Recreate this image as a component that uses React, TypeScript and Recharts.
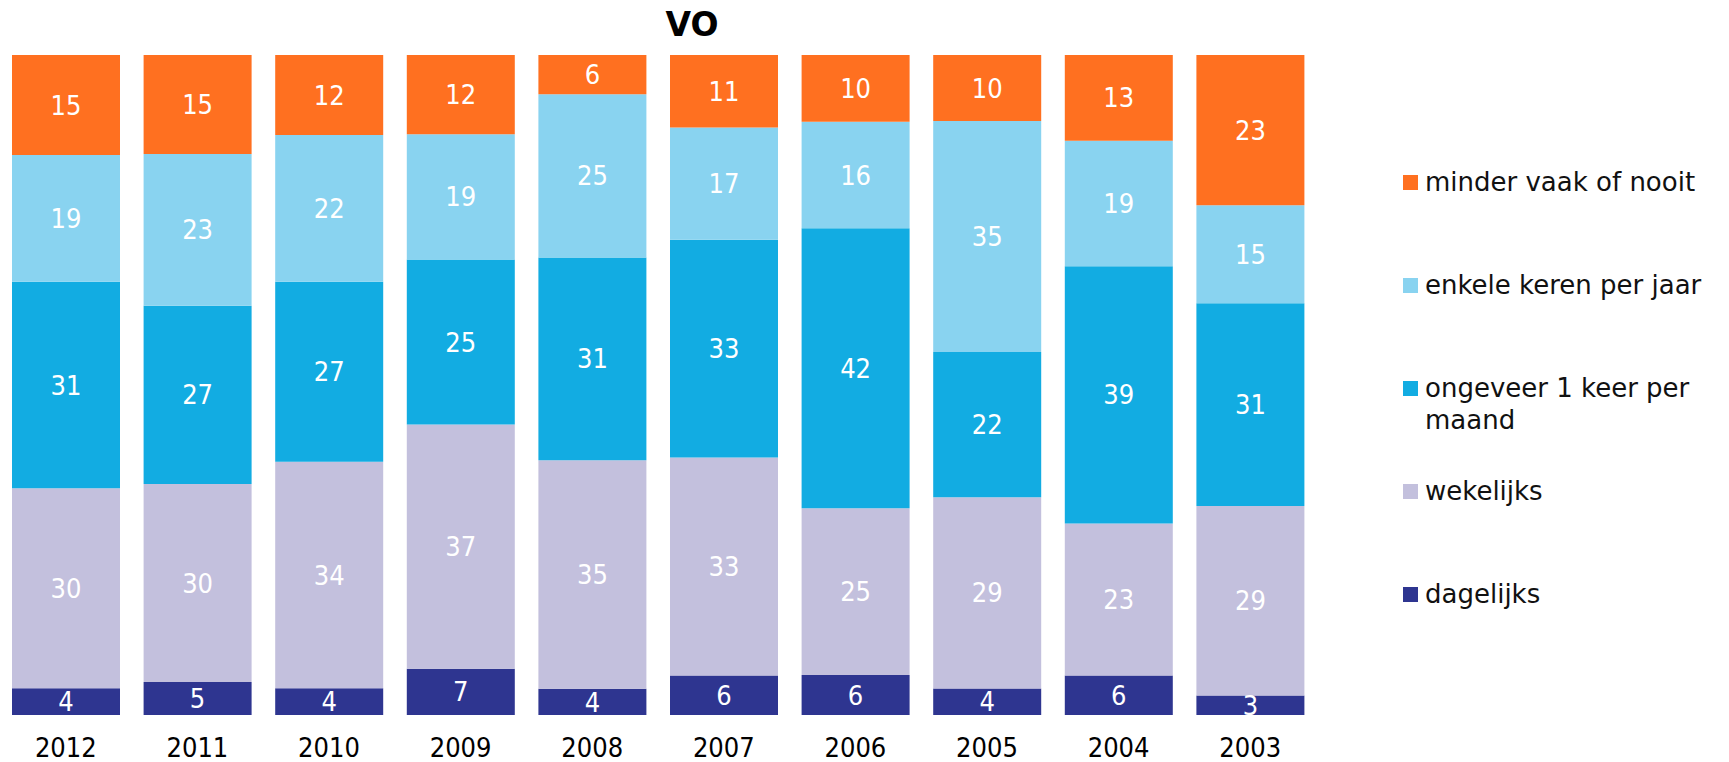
import React from 'react';
import {BarChart, Bar, XAxis, YAxis, LabelList} from 'recharts';

// bottom to top: dagelijks, wekelijks, 1x per maand, enkele keren per jaar, minder vaak
const years = ['2012', '2011', '2010', '2009', '2008', '2007', '2006', '2005', '2004', '2003'];
const dagelijks = [4, 5, 4, 7, 4, 6, 6, 4, 6, 3];
const wekelijks = [30, 30, 34, 37, 35, 33, 25, 29, 23, 29];
const maandelijks = [31, 27, 27, 25, 31, 33, 42, 22, 39, 31];
const perJaar = [19, 23, 22, 19, 25, 17, 16, 35, 19, 15];
const minderVaak = [15, 15, 12, 12, 6, 11, 10, 10, 13, 23];

const series = [
  { key: 'dagelijks', name: 'dagelijks', color: '#2E3590' },
  { key: 'wekelijks', name: 'wekelijks', color: '#C3C0DD' },
  { key: 'maandelijks', name: 'ongeveer 1 keer per maand', color: '#12ACE2' },
  { key: 'perJaar', name: 'enkele keren per jaar', color: '#89D3F0' },
  { key: 'minderVaak', name: 'minder vaak of nooit', color: '#FF7020' },
];

const chartData = years.map((year, i) => ({
  year,
  dagelijks: dagelijks[i],
  wekelijks: wekelijks[i],
  maandelijks: maandelijks[i],
  perJaar: perJaar[i],
  minderVaak: minderVaak[i],
}));

const condensed = '"DejaVu Sans Condensed", "DejaVu Sans", sans-serif';

export default function App() {
  const legendItems = [...series].reverse();

  return (
    <div style={{ position: 'absolute', left: 0, top: 0, width: 1729, height: 762, background: '#fff' }}>
      <div style={{
        position: 'absolute',
        left: 0,
        top: 5,
        width: 1384,
        textAlign: 'center',
        fontFamily: '"DejaVu Sans", sans-serif',
        fontWeight: 'bold',
        fontSize: '33px',
        lineHeight: '40px',
        color: '#000'
      }}>
        VO
      </div>

      <BarChart
        width={1729}
        height={762}
        data={chartData}
        stackOffset="expand"
        margin={{ top: 55, right: 413, left: 0, bottom: 0 }}
      >
        <XAxis
          dataKey="year"
          axisLine={false}
          tickLine={false}
          tickMargin={17}
          height={47}
          tick={{ fill: '#000', fontSize: 27, fontFamily: condensed, fontStretch: 'condensed' }}
        />
        <YAxis hide />
        {series.map(s => (
          <Bar
            key={s.key}
            dataKey={s.key}
            name={s.name}
            stackId="a"
            fill={s.color}
            barSize={108}
            isAnimationActive={false}
          >
            <LabelList
              dataKey={s.key}
              position="center"
              style={{ fill: '#fff', fontSize: '27px', fontFamily: condensed, fontStretch: 'condensed' }}
            />
          </Bar>
        ))}
      </BarChart>

      <div style={{
        position: 'absolute',
        left: 1403,
        top: 166,
        width: 310,
        fontFamily: '"DejaVu Sans", sans-serif',
        fontSize: '26px',
        lineHeight: '32px',
        color: '#111'
      }}>
        {legendItems.map(item => (
          <div key={item.key} style={{ height: 103, display: 'flex', alignItems: 'flex-start' }}>
            <span style={{
              display: 'inline-block',
              width: 15,
              height: 15,
              marginTop: 9,
              marginRight: 7,
              flexShrink: 0,
              background: item.color
            }} />
            <span style={{ width: 285 }}>{item.name}</span>
          </div>
        ))}
      </div>
    </div>
  );
}
